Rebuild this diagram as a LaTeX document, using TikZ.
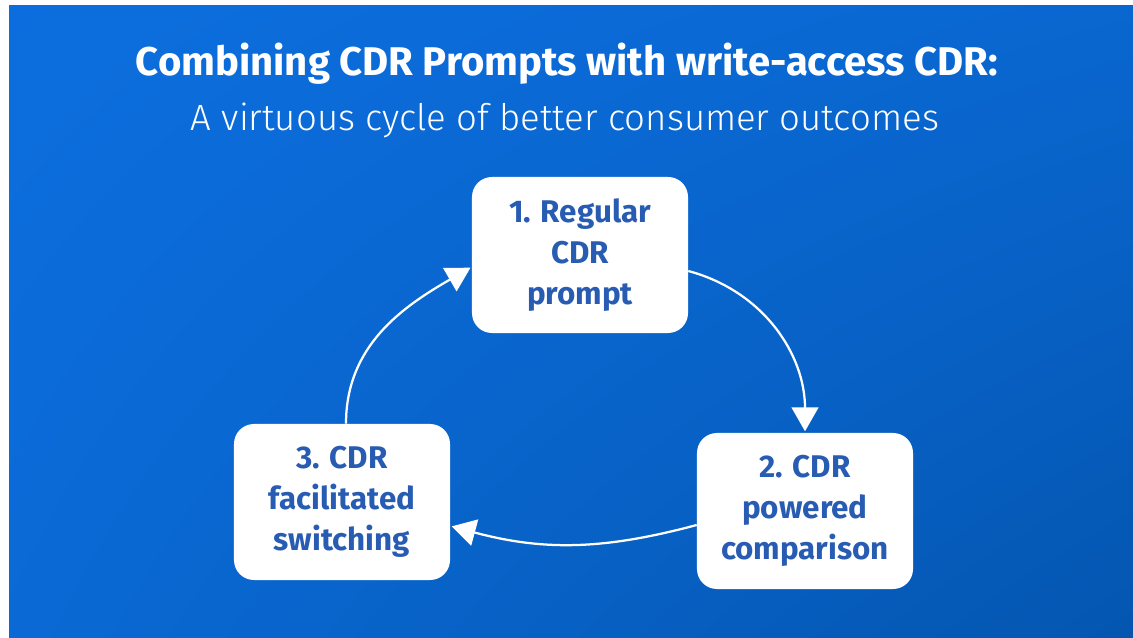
\documentclass[tikz,border=0pt]{standalone}
\usepackage{fontspec}
\setmainfont{Fira Sans}
\newfontfamily\lightfont{Fira Sans Light}
\usetikzlibrary{arrows.meta,positioning,shadings}
\definecolor{bgtop}{RGB}{12,110,222}
\definecolor{bgbot}{RGB}{4,86,176}
\definecolor{stepblue}{RGB}{40,92,178}
\tikzset{
	stepbox/.style={fill=white,rounded corners=0.5cm,minimum width=5.4cm,minimum height=3.9cm,align=center,text=stepblue,font=\fontsize{22.3}{29}\selectfont\bfseries},
	cycle arrow/.style={white,line width=1.6pt,-{Triangle[length=17pt,width=19pt]},shorten >=1pt},
}
\begin{document}
\begin{tikzpicture}[x=0.025cm,y=0.025cm]
	\useasboundingbox (0,0) rectangle (1133,638);
	\fill[white] (0,0) rectangle (1133,638);
	\shade[upper left=bgtop,upper right=bgtop!70!bgbot,lower left=bgtop!80!bgbot,lower right=bgbot] (9,0) rectangle (1133,632);
	% heading
	\node[text=white,font=\fontsize{28.5}{30}\selectfont\bfseries] (title) at (567,574) {Combining CDR Prompts with write-access CDR:};
	\node[text=white,font=\fontsize{26}{30}\selectfont\lightfont] (subtitle) at (565,518) {A virtuous cycle of better consumer outcomes};
	% cycle steps
	\node[stepbox] (prompt) at (580,383) {1. Regular\\CDR\\prompt};
	\node[stepbox] (compare) at (805,127) {2. CDR\\powered\\comparison};
	\node[stepbox] (switch) at (342,136) {3. CDR\\facilitated\\switching};
	\draw[cycle arrow] ([yshift=-0.4cm]prompt.east) to[out=-15,in=90] (compare.north);
	\draw[cycle arrow] ([yshift=-0.35cm]compare.west) to[out=195,in=-15] ([yshift=-0.6cm]switch.east);
	\draw[cycle arrow] ([xshift=0.1cm]switch.north) to[out=90,in=210] ([yshift=-0.3cm]prompt.west);
\end{tikzpicture}
\end{document}
